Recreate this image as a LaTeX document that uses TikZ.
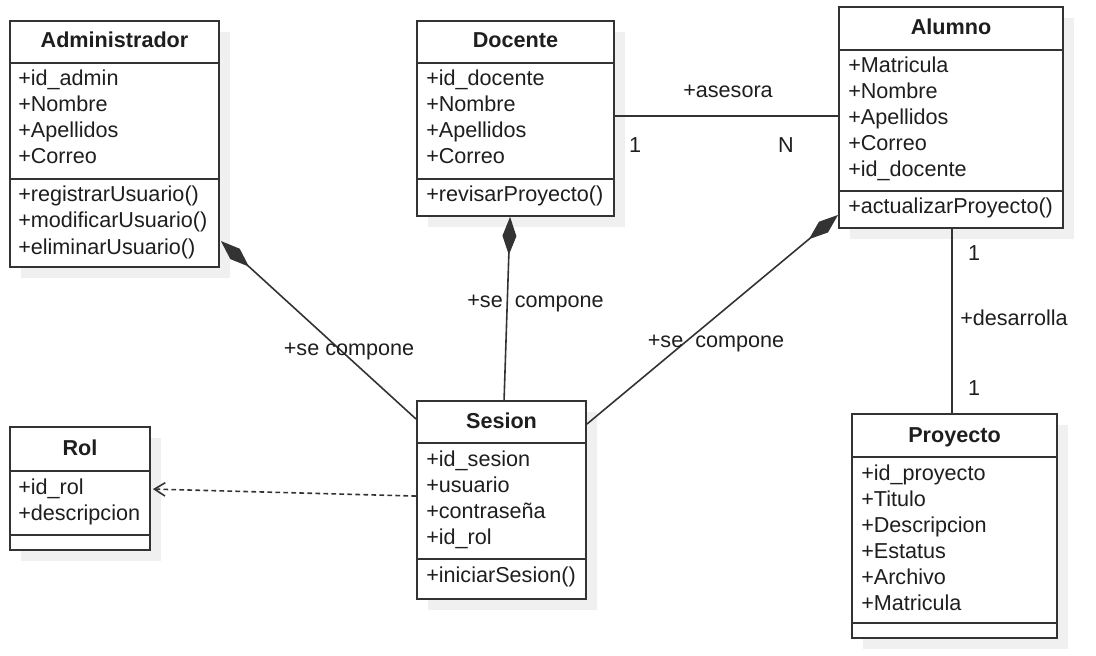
\documentclass[tikz,border=0pt]{standalone}
\usepackage{fontspec}
\setmainfont{Liberation Sans}
\usetikzlibrary{arrows.meta,calc,shadows}

\definecolor{ink}{RGB}{30,30,30}
\definecolor{edge}{RGB}{51,51,51}

\tikzset{
  txt/.style={inner sep=0pt, text=ink, font=\fontsize{16.2pt}{19.5pt}\selectfont},
  classbox/.style={draw=edge, line width=1.4pt, fill=white, inner sep=0pt,
    drop shadow={shadow xshift=8.25pt, shadow yshift=-8.25pt, fill=black!6, opacity=1}},
  divider/.style={draw=edge, line width=1.4pt},
  ctitle/.style={txt, anchor=base, font=\fontsize{16.2pt}{19.5pt}\selectfont\bfseries},
  member/.style={txt, anchor=base west},
  tag/.style={txt, anchor=base},
  assoc/.style={draw=edge, line width=1.2pt},
  composition/.style={assoc, -{Diamond[length=28.5pt,width=10.5pt]}},
  dependency/.style={assoc, dash pattern=on 3.5pt off 2.5pt,
    -{Straight Barb[length=8pt,width=10pt]}},
}

\begin{document}
\begin{tikzpicture}[x=0.75pt, y=-0.75pt]
\useasboundingbox (0,0) rectangle (1096,656);

% ---------- Administrador ----------
\node[classbox, minimum width=156.75pt, minimum height=184.5pt] (adm) at (114.5,144) {};
\draw[divider] (10,63) -- (219,63) (10,179) -- (219,179);
\node[ctitle] (adm-t) at (114.5,48) {Administrador};
\foreach \m [count=\i] in {+id\_admin,+Nombre,+Apellidos,+Correo}
  \node[member] (adm-a\i) at (18,{86+26*(\i-1)}) {\m};
\foreach \m [count=\i] in {+registrarUsuario(),+modificarUsuario(),+eliminarUsuario()}
  \node[member] (adm-m\i) at (18,{202+26*(\i-1)}) {\m};

% ---------- Docente ----------
\node[classbox, minimum width=147.75pt, minimum height=146.25pt] (doc) at (515.5,118.5) {};
\draw[divider] (417,63) -- (614,63) (417,179) -- (614,179);
\node[ctitle] (doc-t) at (515.5,48) {Docente};
\foreach \m [count=\i] in {+id\_docente,+Nombre,+Apellidos,+Correo}
  \node[member] (doc-a\i) at (426,{86+26*(\i-1)}) {\m};
\node[member] (doc-m1) at (426,202) {+revisarProyecto()};

% ---------- Alumno ----------
\node[classbox, minimum width=168pt, minimum height=165.75pt] (alu) at (951,117.5) {};
\draw[divider] (839,50) -- (1063,50) (839,191) -- (1063,191);
\node[ctitle] (alu-t) at (951,35) {Alumno};
\foreach \m [count=\i] in {+Matricula,+Nombre,+Apellidos,+Correo,+id\_docente}
  \node[member] (alu-a\i) at (848,{73+26*(\i-1)}) {\m};
\node[member] (alu-m1) at (848,214) {+actualizarProyecto()};

% ---------- Rol ----------
\node[classbox, minimum width=105pt, minimum height=92.25pt] (rol) at (80,488.5) {};
\draw[divider] (10,471) -- (150,471) (10,535) -- (150,535);
\node[ctitle] (rol-t) at (80,455) {Rol};
\foreach \m [count=\i] in {+id\_rol,+descripcion}
  \node[member] (rol-a\i) at (18,{494+26*(\i-1)}) {\m};

% ---------- Sesion ----------
\node[classbox, minimum width=126.75pt, minimum height=148.5pt] (ses) at (501.5,500) {};
\draw[divider] (417,443) -- (586,443) (417,559) -- (586,559);
\node[ctitle] (ses-t) at (501.5,428) {Sesion};
\foreach \m [count=\i] in {+id\_sesion,+usuario,+contraseña,+id\_rol}
  \node[member] (ses-a\i) at (426,{466+26*(\i-1)}) {\m};
\node[member] (ses-m1) at (426,582) {+iniciarSesion()};

% ---------- Proyecto ----------
\node[classbox, minimum width=153.75pt, minimum height=168pt] (pro) at (954.5,526) {};
\draw[divider] (852,457) -- (1057,457) (852,623) -- (1057,623);
\node[ctitle] (pro-t) at (954.5,442) {Proyecto};
\foreach \m [count=\i] in {+id\_proyecto,+Titulo,+Descripcion,+Estatus,+Archivo,+Matricula}
  \node[member] (pro-a\i) at (861,{480+26*(\i-1)}) {\m};

% ---------- Relations ----------
% Sesion is part of Administrador, Docente and Alumno
\draw[composition] ($(ses.north west)+(0,19)$) -- ($(adm.north east)+(1,221)$);
\draw[composition] ($(ses.north west)+(88,0)$) -- ($(doc.south west)+(94,0)$);
\draw[composition] ($(ses.north east)+(0,24)$) -- ($(alu.south west)+(0,-14)$);
\node[tag] (lbl-adm) at (349,355) {+se compone};
\node[tag] (lbl-doc) at (535.5,307) {+se\ \ compone};
\node[tag] (lbl-alu) at (716,347) {+se\ \ compone};

% Docente advises Alumno
\draw[assoc] ($(doc.north east)+(0,96)$) -- ($(alu.north west)+(0,110)$);
\node[tag] (lbl-ase) at (728,98) {+asesora};
\node[tag] (m-doc) at (635,153) {1};
\node[tag] (m-alu) at (786,153) {N};

% Alumno develops Proyecto
\draw[assoc] ($(alu.south west)+(114,0)$) -- ($(pro.north west)+(101,0)$);
\node[tag] (m-alu2) at (974,260) {1};
\node[member] (lbl-des) at (960,325) {+desarrolla};
\node[tag] (m-pro) at (974,395) {1};

% Sesion depends on Rol
\draw[dependency] ($(ses.north west)+(0,96)$) -- ($(rol.north east)+(2,63)$);
\end{tikzpicture}
\end{document}
